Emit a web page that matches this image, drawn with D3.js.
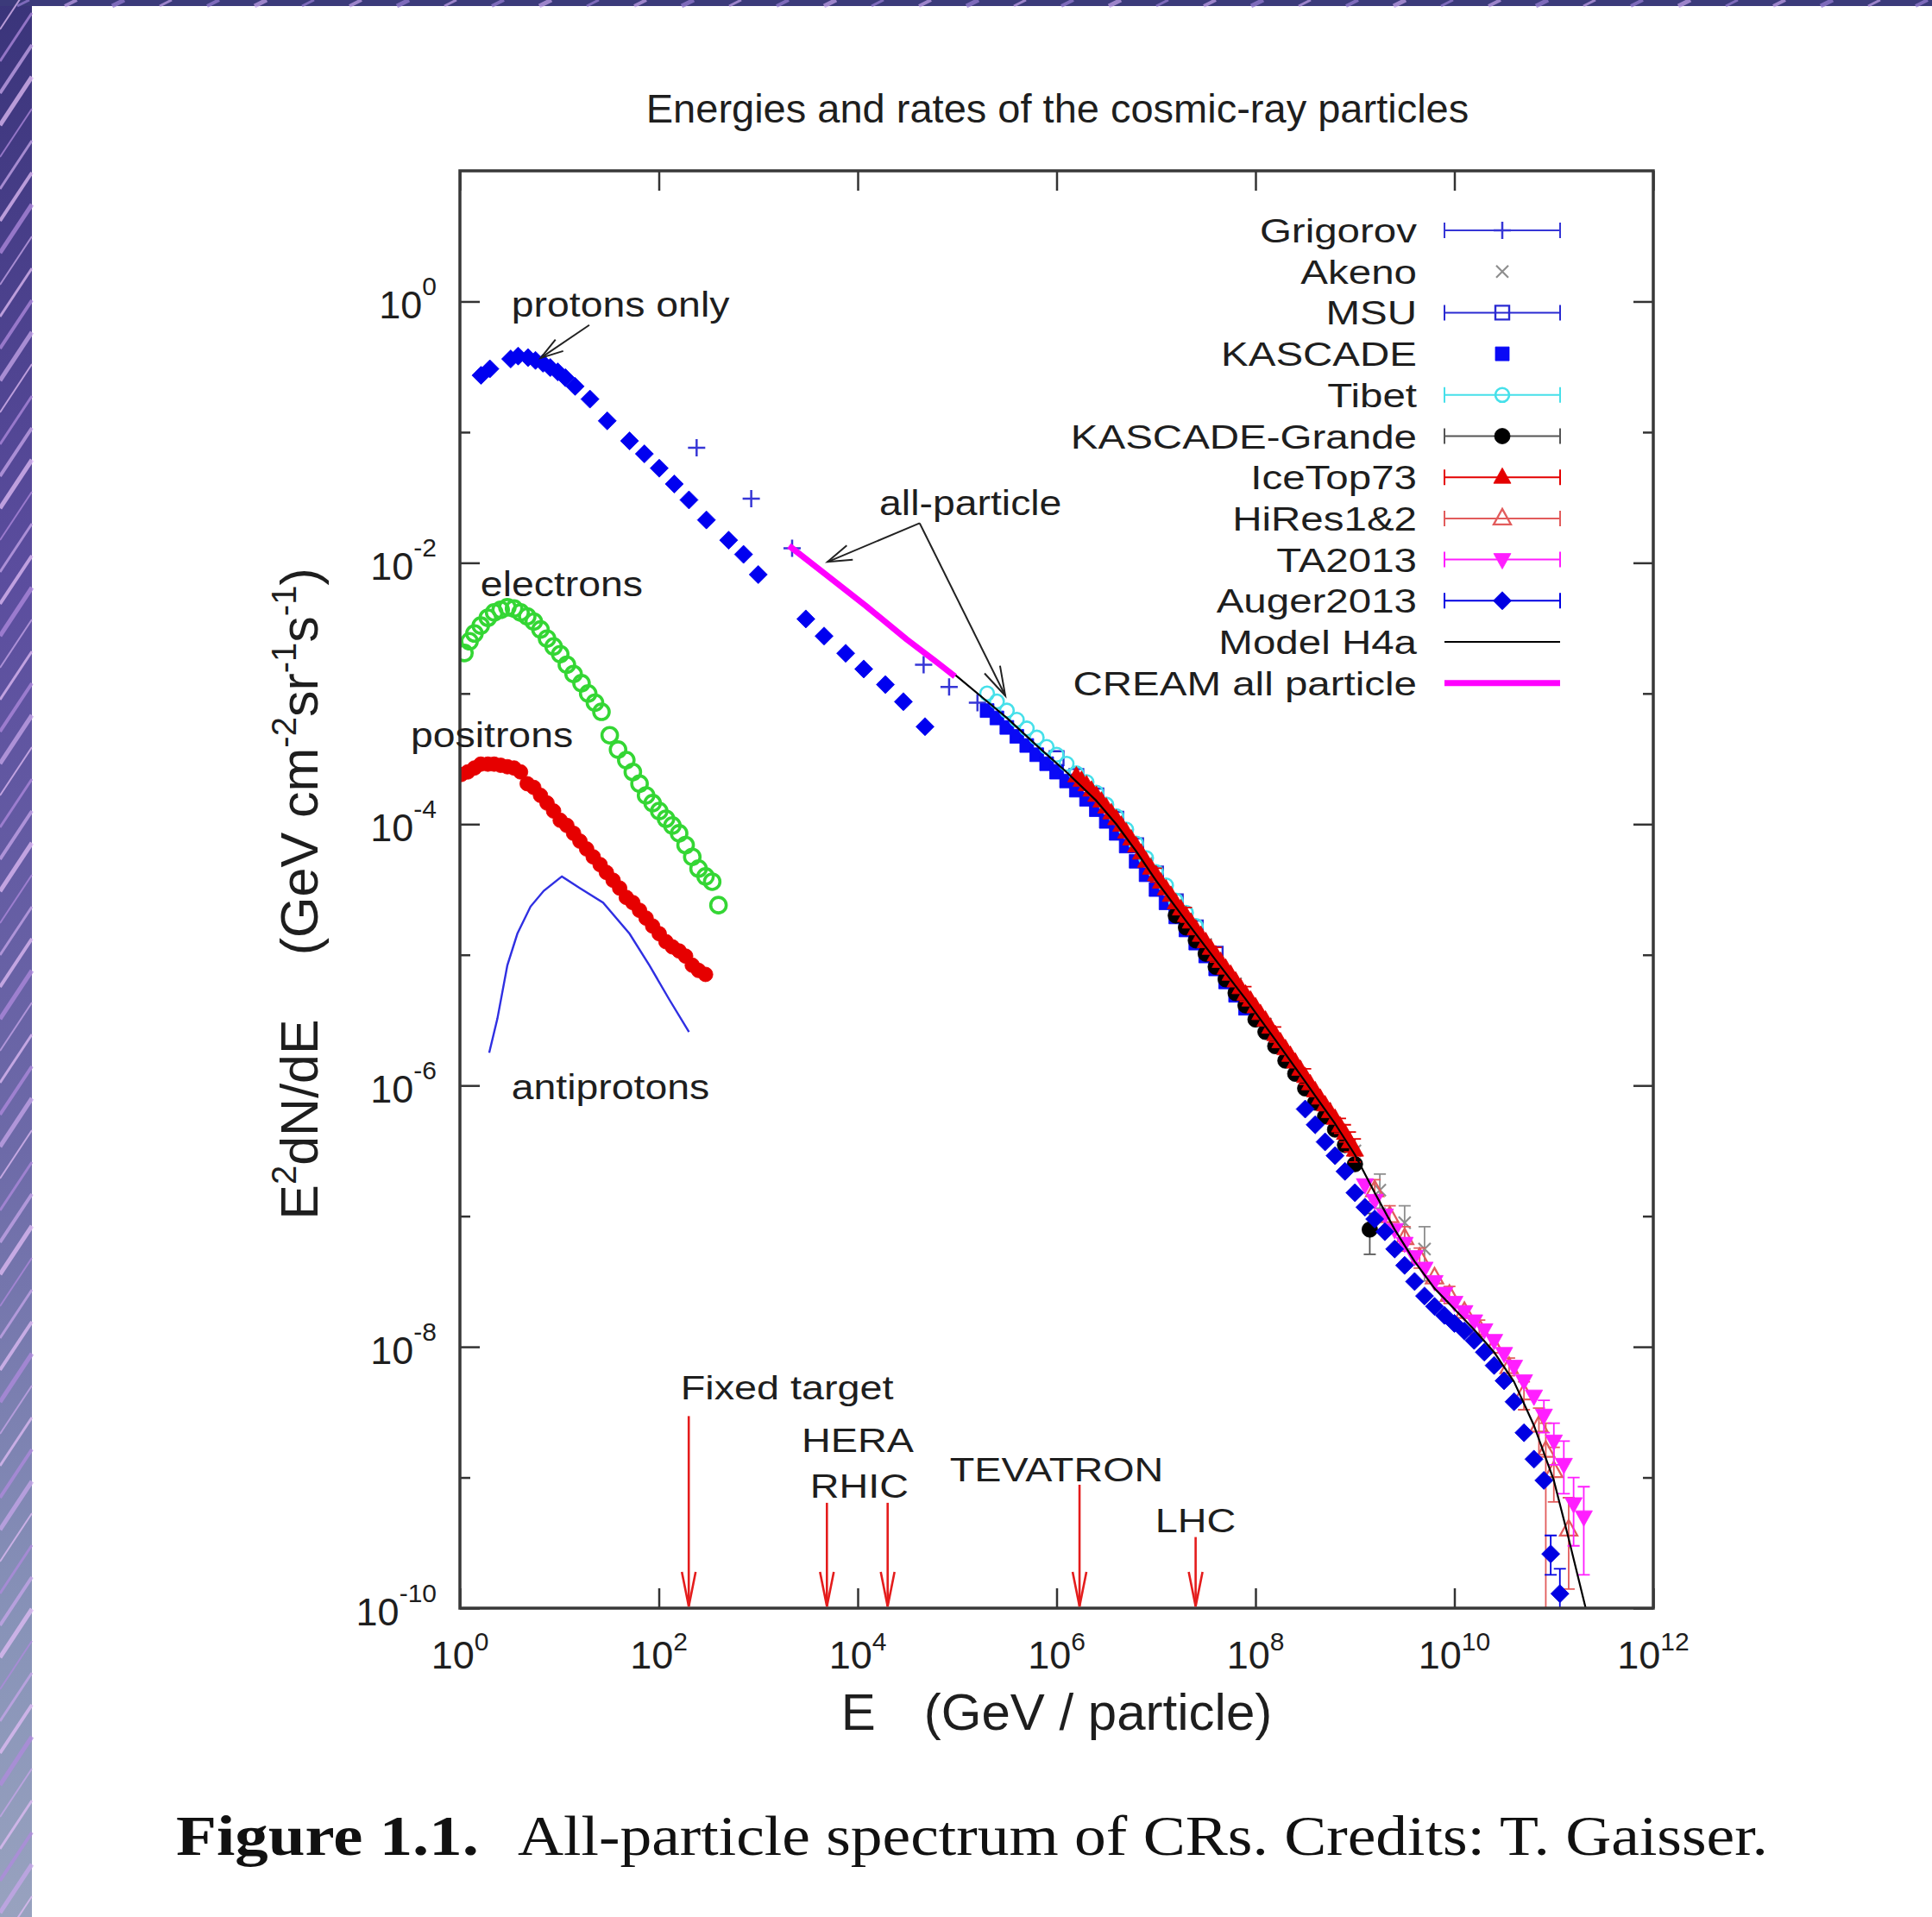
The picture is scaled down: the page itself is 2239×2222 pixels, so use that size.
<!DOCTYPE html>
<html>
<head>
<meta charset="utf-8">
<script src="https://cdn.jsdelivr.net/npm/d3@7"></script>
<style>
  html, body { margin: 0; padding: 0; background: #ffffff; }
  svg { display: block; }
</style>
</head>
<body>
<svg id="chart" width="2239" height="2222"></svg>
<script>
// ---------------------------------------------------------------
// Data: each point is [E (GeV), E^2 dN/dE (GeV cm^-2 sr^-1 s^-1)]
// optional 3rd/4th entries are the lower/upper ends of an error bar
// ---------------------------------------------------------------
const protons = [[1.63,0.272],[2.0,0.305],[3.24,0.363],[3.85,0.382],[4.84,0.372],[5.75,0.354],
  [6.84,0.337],[8.11,0.312],[9.64,0.289],[11.5,0.261],[14.4,0.224],[20.3,0.179],[30.3,0.122],
  [50.8,0.0857],[71.6,0.0682],[101,0.0530],[143,0.0401],[201,0.0303],[301,0.0213],[504,0.0149],
  [711,0.0116],[1000,0.00813],[3010,0.00372],[4590,0.00275],[7570,0.00203],[1.15e4,0.00154],
  [1.90e4,0.00117],[2.88e4,8.65e-4],[4.75e4,5.57e-4]];

const electrons = [[1.11,2.04e-3],[1.25,2.51e-3],[1.40,2.88e-3],[1.62,3.31e-3],[1.91,3.80e-3],
  [2.21,4.17e-3],[2.57,4.37e-3],[3.00,4.57e-3],[3.50,4.47e-3],[4.07,4.17e-3],[4.75,3.89e-3],
  [5.53,3.55e-3],[6.46,3.09e-3],[7.52,2.63e-3],[8.75,2.29e-3],[10.2,2.00e-3],[11.9,1.66e-3],
  [13.9,1.41e-3],[16.7,1.20e-3],[19.5,1.00e-3],[22.8,8.51e-4],[26.5,7.24e-4],[32.1,4.79e-4],
  [38.9,3.72e-4],[47.1,3.09e-4],[54.8,2.51e-4],[64.0,2.04e-4],[74.5,1.66e-4],[86.7,1.45e-4],
  [101,1.26e-4],[118,1.10e-4],[137,9.77e-5],[160,8.51e-5],[186,6.92e-5],[217,5.62e-5],
  [251,4.57e-5],[295,3.98e-5],[344,3.63e-5],[398,2.40e-5]];

const positrons = [[1.03,2.40e-4],[1.20,2.51e-4],[1.40,2.69e-4],[1.62,2.88e-4],[1.91,2.88e-4],
  [2.21,2.88e-4],[2.57,2.82e-4],[3.00,2.75e-4],[3.50,2.69e-4],[4.07,2.51e-4],[4.75,2.04e-4],
  [5.53,1.91e-4],[6.46,1.66e-4],[7.52,1.45e-4],[8.75,1.26e-4],[10.2,1.07e-4],[11.9,9.77e-5],
  [13.9,8.51e-5],[16.1,7.41e-5],[18.8,6.46e-5],[21.9,5.62e-5],[25.7,4.90e-5],[29.7,4.27e-5],
  [34.7,3.72e-5],[40.4,3.24e-5],[47.1,2.75e-5],[54.8,2.51e-5],[64.0,2.19e-5],[74.5,1.91e-5],
  [86.7,1.66e-5],[101,1.45e-5],[118,1.26e-5],[137,1.15e-5],[160,1.07e-5],[186,9.77e-6],
  [217,8.32e-6],[251,7.59e-6],[295,7.08e-6]];

const antiprotons = [[1.97,1.78e-6],[2.38,3.24e-6],[3.00,8.32e-6],[3.78,1.45e-5],[5.13,2.34e-5],
  [6.97,3.09e-5],[10.6,3.98e-5],[16.1,3.24e-5],[27.5,2.51e-5],[50.8,1.45e-5],[80.4,8.32e-6],
  [127,4.57e-6],[201,2.57e-6]];

const grigorov = [[240,0.076],[850,0.031],[2190,0.0129],[4.6e4,1.66e-3],[8.3e4,1.12e-3],[1.6e5,8.5e-4]];

const akeno = [[3.98e6,1.0e-4],[7.94e6,5.0e-5],[1.58e7,2.4e-5],[3.16e7,1.2e-5],[6.31e7,6.0e-6],
  [1.26e8,2.95e-6],[2.51e8,1.38e-6],[5.01e8,6.6e-7],[1.0e9,3.16e-7],[1.78e9,1.58e-7,1.15e-7,2.1e-7],
  [3.16e9,8.9e-8,5.6e-8,1.2e-7],[5.01e9,5.6e-8,3.2e-8,8.3e-8]];

const msu = [[1.0e6,3.2e-4],[1.58e6,2.34e-4],[2.51e6,1.66e-4],[3.98e6,1.1e-4],[6.31e6,6.9e-5],
  [1.0e7,4.2e-5],[1.58e7,2.57e-5],[2.51e7,1.62e-5],[3.98e7,1.02e-5]];

const kascade = [[2.0e5,7.4e-4],[2.51e5,6.5e-4],[3.16e5,5.5e-4],[3.98e5,4.7e-4],[5.01e5,4.0e-4],
  [6.31e5,3.4e-4],[7.94e5,2.9e-4],[1.0e6,2.5e-4],[1.26e6,2.14e-4],[1.58e6,1.82e-4],[2.0e6,1.55e-4],
  [2.51e6,1.29e-4],[3.16e6,1.05e-4],[3.98e6,8.5e-5],[5.01e6,6.8e-5],[6.31e6,5.2e-5],[7.94e6,4.1e-5],
  [1.0e7,3.16e-5],[1.26e7,2.5e-5],[1.58e7,1.95e-5],[2.0e7,1.55e-5],[2.51e7,1.23e-5],[3.16e7,9.8e-6],
  [3.98e7,7.8e-6],[5.01e7,6.2e-6],[6.31e7,4.9e-6],[7.94e7,3.9e-6]];

const tibet = [[2.0e5,1.0e-3],[2.51e5,8.7e-4],[3.16e5,7.4e-4],[3.98e5,6.3e-4],[5.01e5,5.4e-4],
  [6.31e5,4.6e-4],[7.94e5,3.9e-4],[1.0e6,3.4e-4],[1.26e6,2.9e-4],[1.58e6,2.45e-4],[2.0e6,2.1e-4],
  [2.51e6,1.74e-4],[3.16e6,1.41e-4],[3.98e6,1.15e-4],[5.01e6,9.1e-5],[6.31e6,7.1e-5],[7.94e6,5.5e-5],
  [1.0e7,4.3e-5],[1.26e7,3.4e-5],[1.58e7,2.6e-5],[2.0e7,2.1e-5],[2.51e7,1.66e-5]];

const kascadeGrande = [[1.58e7,2.0e-5],[2.0e7,1.62e-5],[2.51e7,1.29e-5],[3.16e7,1.02e-5],[3.98e7,8.1e-6],
  [5.01e7,6.5e-6],[6.31e7,5.1e-6],[7.94e7,4.1e-6],[1.0e8,3.2e-6],[1.26e8,2.57e-6],[1.58e8,2.0e-6],
  [2.0e8,1.55e-6],[2.51e8,1.23e-6],[3.16e8,9.5e-7],[3.98e8,7.4e-7],[5.01e8,5.8e-7],[6.31e8,4.6e-7],
  [7.94e8,3.5e-7],[1.0e9,2.5e-7],[1.41e9,7.9e-8,5.1e-8,1.05e-7]];

const iceTop73 = [[1.58e6,2.34e-4],[1.78e6,2.16e-4],[2.0e6,2.0e-4],[2.24e6,1.82e-4],[2.51e6,1.66e-4],
  [2.82e6,1.50e-4],[3.16e6,1.35e-4],[3.55e6,1.22e-4],[3.98e6,1.10e-4],[4.47e6,9.8e-5],[5.01e6,8.7e-5],
  [5.62e6,7.7e-5],[6.31e6,6.8e-5],[7.08e6,6.0e-5],[7.94e6,5.2e-5],[8.91e6,4.6e-5],[1.0e7,4.1e-5,3.6e-5,4.6e-5],
  [1.12e7,3.6e-5],[1.26e7,3.2e-5],[1.41e7,2.85e-5],[1.58e7,2.5e-5],[1.78e7,2.24e-5],[2.0e7,2.0e-5,1.78e-5,2.3e-5],
  [2.24e7,1.78e-5],[2.51e7,1.58e-5],[2.82e7,1.41e-5],[3.16e7,1.26e-5],[3.55e7,1.12e-5],[3.98e7,1.0e-5,8.8e-6,1.14e-5],
  [4.47e7,8.9e-6],[5.01e7,7.9e-6],[5.62e7,7.1e-6],[6.31e7,6.3e-6],[7.08e7,5.6e-6],[7.94e7,5.0e-6,4.4e-6,5.7e-6],
  [8.91e7,4.5e-6],[1.0e8,4.0e-6],[1.12e8,3.55e-6],[1.26e8,3.16e-6],[1.41e8,2.79e-6],[1.58e8,2.45e-6,2.15e-6,2.8e-6],
  [1.78e8,2.16e-6],[2.0e8,1.91e-6],[2.24e8,1.70e-6],[2.51e8,1.51e-6],[2.82e8,1.33e-6],[3.16e8,1.17e-6,1.02e-6,1.34e-6],
  [3.55e8,1.03e-6],[3.98e8,9.1e-7],[4.47e8,8.0e-7],[5.01e8,7.1e-7],[5.62e8,6.3e-7],[6.31e8,5.6e-7],
  [7.08e8,4.9e-7,4.3e-7,5.6e-7],[7.94e8,4.3e-7,3.7e-7,5.0e-7],[8.91e8,3.7e-7,3.1e-7,4.4e-7],
  [1.0e9,3.2e-7,2.6e-7,3.9e-7]];

const hiRes = [[1.58e9,1.58e-7,1.3e-7,1.9e-7],[2.24e9,1.0e-7,8.3e-8,1.2e-7],[3.16e9,6.8e-8,5.4e-8,8.3e-8],
  [4.47e9,4.8e-8,4.0e-8,5.7e-8],[6.31e9,3.4e-8],[8.91e9,2.5e-8,2.15e-8,2.9e-8],[1.26e10,1.85e-8],
  [1.78e10,1.38e-8,1.2e-8,1.6e-8],[2.51e10,1.0e-8],[3.55e10,7.0e-9,6.0e-9,8.2e-9],
  [5.01e10,4.4e-9,3.3e-9,5.4e-9],[7.08e10,2.5e-9,1.5e-9,3.4e-9],[8.3e10,1.6e-9,1.0e-10,2.6e-9],
  [1.0e11,1.12e-9,6.5e-10,1.7e-9],[1.41e11,4.0e-10,1.4e-10,7.0e-10]];

const ta2013 = [[1.26e9,1.74e-7],[1.58e9,1.32e-7],[2.0e9,1.02e-7],[2.51e9,7.9e-8],[3.16e9,6.2e-8],
  [3.98e9,4.9e-8],[5.01e9,4.0e-8],[6.31e9,3.16e-8],[7.94e9,2.57e-8],[1.0e10,2.19e-8],[1.26e10,1.86e-8],
  [1.58e10,1.58e-8],[2.0e10,1.35e-8],[2.51e10,1.12e-8],[3.16e10,8.9e-9],[3.98e10,7.1e-9],
  [5.01e10,5.5e-9],[6.31e10,4.2e-9],[7.94e10,3.0e-9,2.2e-9,3.9e-9],[1.0e11,1.9e-9,1.25e-9,2.6e-9],
  [1.26e11,1.26e-9,7.5e-10,1.9e-9],[1.58e11,6.3e-10,3.0e-10,1.0e-9],[2.0e11,5.0e-10,1.8e-10,8.5e-10]];

const auger2013 = [[3.16e8,6.6e-7],[3.98e8,5.0e-7],[5.01e8,3.7e-7],[6.31e8,2.9e-7],[7.94e8,2.2e-7],
  [1.0e9,1.51e-7],[1.26e9,1.17e-7],[1.58e9,9.5e-8],[2.0e9,7.6e-8],[2.51e9,5.6e-8],[3.16e9,4.2e-8],
  [3.98e9,3.16e-8],[5.01e9,2.45e-8],[6.31e9,2.04e-8],[7.94e9,1.74e-8],[1.0e10,1.51e-8],[1.26e10,1.32e-8],
  [1.58e10,1.12e-8],[2.0e10,9.1e-9],[2.51e10,7.2e-9],[3.16e10,5.5e-9],[3.98e10,3.8e-9],[5.01e10,2.2e-9],
  [6.31e10,1.38e-9],[7.94e10,9.5e-10],[9.3e10,2.6e-10,1.8e-10,3.6e-10],[1.15e11,1.29e-10,1.0e-10,2.0e-10]];

const modelH4a = [[3.16e4,2.6e-3],[1.0e5,1.35e-3],[2.0e5,8.7e-4],[3.16e5,6.5e-4],[6.31e5,4.0e-4],
  [1.26e6,2.5e-4],[2.51e6,1.51e-4],[3.98e6,1.0e-4],[6.31e6,6.2e-5],[1.0e7,3.7e-5],[2.0e7,1.82e-5],
  [3.98e7,9.1e-6],[7.94e7,4.6e-6],[1.58e8,2.24e-6],[3.16e8,1.07e-6],[6.31e8,5.1e-7],[1.0e9,2.95e-7],
  [1.58e9,1.51e-7],[2.51e9,7.9e-8],[3.98e9,4.5e-8],[6.31e9,2.8e-8],[1.0e10,1.95e-8],[1.58e10,1.35e-8],
  [2.51e10,9.1e-9],[3.98e10,5.4e-9],[6.31e10,2.5e-9],[1.0e11,9.5e-10],[1.41e11,3.4e-10],[2.09e11,1.0e-10]];

const creamAll = [[2040,0.0135],[5010,0.0079],[1.2e4,0.0047],[3.1e4,0.0026],[6.6e4,0.00168],[9.5e4,0.00135]];

// accelerator equivalent energies
const accelerators = ["Fixed target", "HERA", "RHIC", "TEVATRON", "LHC"];
const acceleratorE = [2.0e2, 4.9e3, 2.0e4, 1.7e6, 2.5e7];

// tick labels (powers of ten)
const xTickExp = [0, 2, 4, 6, 8, 10, 12];
const yTickExp = [0, -2, -4, -6, -8, -10];
const yMinorExp = [-1, -3, -5, -7, -9];

// ---------------------------------------------------------------
const W = 2239, H = 2222;
const svg = d3.select("#chart");
const defs = svg.append("defs");
const SANS = "'Liberation Sans', Arial, Helvetica, sans-serif";
const SERIF = "'Liberation Serif', 'Times New Roman', serif";
const INK = "#1e1e1e";

// ---- decorative border of the page ----
const grad = defs.append("linearGradient").attr("id", "strip").attr("x1", 0).attr("y1", 0).attr("x2", 0).attr("y2", 1);
[["0%", "#3a347a"], ["30%", "#5b4d9e"], ["60%", "#6d6aa8"], ["85%", "#8893b8"], ["100%", "#98a2bf"]]
  .forEach(([o, c]) => grad.append("stop").attr("offset", o).attr("stop-color", c));
const border = svg.append("g");
border.append("rect").attr("x", 0).attr("y", 0).attr("width", 37).attr("height", H).attr("fill", "url(#strip)");
border.append("rect").attr("x", 0).attr("y", 0).attr("width", W).attr("height", 7).attr("fill", "#3b3a7a");
d3.range(0, 62).forEach(i => {
  const y0 = i * 37;
  border.append("line").attr("x1", 0).attr("y1", y0 + 34).attr("x2", 37).attr("y2", y0 - 22)
    .attr("stroke", i % 3 === 0 ? "#e2bdf6" : (i % 3 === 1 ? "#b08ade" : "#c7a6ea"))
    .attr("stroke-width", 2 + (i % 4)).attr("opacity", 0.75);
});
d3.range(0, 42).forEach(i => {
  const x0 = i * 55 + 20;
  border.append("line").attr("x1", x0).attr("y1", 7).attr("x2", x0 + 14).attr("y2", 0)
    .attr("stroke", i % 2 ? "#c6a4ec" : "#9a7fd6").attr("stroke-width", 3 + (i % 3)).attr("opacity", 0.7);
});

// ---- scales ----
const x = d3.scaleLog().domain([1, 1e12]).range([533, 1916]);
const y = d3.scaleLog().domain([1e-10, 10]).range([1864, 198]);
const [X0, X1] = x.range();
const [Y1, Y0] = y.range();

defs.append("clipPath").attr("id", "plotClip").append("rect")
  .attr("x", X0).attr("y", Y0).attr("width", X1 - X0).attr("height", Y1 - Y0);

// ---- title ----
svg.append("text").attr("x", (X0 + X1) / 2 + 1).attr("y", 142).attr("text-anchor", "middle")
  .attr("font-family", SANS).attr("font-size", 47).attr("fill", INK)
  .text("Energies and rates of the cosmic-ray particles");

// ---- axes (ticks drawn inward, mirrored on all sides) ----
const xMajor = xTickExp.map(e => Math.pow(10, e));
const yMajor = yTickExp.map(e => Math.pow(10, e));
const yMinor = yMinorExp.map(e => Math.pow(10, e));
function styleAxis(g) {
  g.select(".domain").remove();
  g.selectAll("line").attr("stroke", "#333").attr("stroke-width", 2.5);
}
svg.append("g").attr("transform", `translate(0,${Y1})`)
  .call(d3.axisBottom(x).tickValues(xMajor).tickSize(-23).tickFormat("")).call(styleAxis);
svg.append("g").attr("transform", `translate(0,${Y0})`)
  .call(d3.axisTop(x).tickValues(xMajor).tickSize(-23).tickFormat("")).call(styleAxis);
svg.append("g").attr("transform", `translate(${X0},0)`)
  .call(d3.axisLeft(y).tickValues(yMajor).tickSize(-23).tickFormat("")).call(styleAxis);
svg.append("g").attr("transform", `translate(${X1},0)`)
  .call(d3.axisRight(y).tickValues(yMajor).tickSize(-23).tickFormat("")).call(styleAxis);
svg.append("g").attr("transform", `translate(${X0},0)`)
  .call(d3.axisLeft(y).tickValues(yMinor).tickSize(-12).tickFormat("")).call(styleAxis);
svg.append("g").attr("transform", `translate(${X1},0)`)
  .call(d3.axisRight(y).tickValues(yMinor).tickSize(-12).tickFormat("")).call(styleAxis);

// tick labels 10^n
xTickExp.forEach(e => {
  const t = svg.append("text").attr("x", x(Math.pow(10, e))).attr("y", 1934).attr("text-anchor", "middle")
    .attr("font-family", SANS).attr("font-size", 45).attr("fill", INK);
  t.append("tspan").text("10");
  t.append("tspan").attr("dy", -21).attr("font-size", 30).text(String(e));
});
yTickExp.forEach(e => {
  const t = svg.append("text").attr("x", 506).attr("y", y(Math.pow(10, e)) + 20).attr("text-anchor", "end")
    .attr("font-family", SANS).attr("font-size", 45).attr("fill", INK);
  t.append("tspan").text("10");
  t.append("tspan").attr("dy", -27).attr("font-size", 30).text(String(e));
});

// axis titles
const xt = svg.append("text").attr("x", (X0 + X1) / 2).attr("y", 2005).attr("text-anchor", "middle")
  .attr("font-family", SANS).attr("font-size", 60).attr("fill", INK);
xt.append("tspan").text("E");
xt.append("tspan").attr("dx", 56).text("(GeV / particle)");

const yt = svg.append("text").attr("transform", `translate(368,${(Y0 + Y1) / 2 + 5}) rotate(-90)`)
  .attr("text-anchor", "middle").attr("font-family", SANS).attr("font-size", 61).attr("fill", INK);
yt.append("tspan").text("E");
yt.append("tspan").attr("dy", -25).attr("font-size", 40).text("2");
yt.append("tspan").attr("dy", 25).text("dN/dE");
yt.append("tspan").attr("dx", 74).text("(GeV cm");
yt.append("tspan").attr("dy", -25).attr("font-size", 40).text("-2");
yt.append("tspan").attr("dy", 25).text("sr");
yt.append("tspan").attr("dy", -25).attr("font-size", 40).text("-1");
yt.append("tspan").attr("dy", 25).text("s");
yt.append("tspan").attr("dy", -25).attr("font-size", 40).text("-1");
yt.append("tspan").attr("dy", 25).text(")");

// ---- marker shapes ----
function symPath(type, a) {
  switch (type) {
    case "plus": return `M${-a},0H${a}M0,${-a}V${a}`;
    case "times": return `M${-a},${-a}L${a},${a}M${-a},${a}L${a},${-a}`;
    case "square": case "squareOpen": return `M${-a},${-a}H${a}V${a}H${-a}Z`;
    case "circle": case "circleOpen": return `M${a},0A${a},${a} 0 1,1 ${-a},0A${a},${a} 0 1,1 ${a},0Z`;
    case "triangle": case "triangleOpen": return `M0,${-1.1 * a}L${a},${0.7 * a}L${-a},${0.7 * a}Z`;
    case "triangleDown": return `M0,${1.1 * a}L${a},${-0.7 * a}L${-a},${-0.7 * a}Z`;
    case "diamond": return `M0,${-a}L${a},0L0,${a}L${-a},0Z`;
  }
}
const symStyle = {
  plus:         { a: 10,   fill: false, sw: 2.5 },
  times:        { a: 7,    fill: false, sw: 2.2 },
  square:       { a: 8,    fill: true },
  squareOpen:   { a: 8,    fill: false, sw: 2.4 },
  circle:       { a: 9,    fill: true },
  circleOpen:   { a: 8,    fill: false, sw: 2.6 },
  triangle:     { a: 10,   fill: true },
  triangleOpen: { a: 10,   fill: false, sw: 2.3 },
  triangleDown: { a: 10,   fill: true },
  diamond:      { a: 10.5, fill: true }
};
function marker(g, type, cx, cy, color, a, sw) {
  const st = symStyle[type];
  const size = a || st.a;
  const p = g.append("path").attr("d", symPath(type, size)).attr("transform", `translate(${cx},${cy})`);
  if (st.fill) p.attr("fill", color).attr("stroke", color).attr("stroke-width", 0.8);
  else p.attr("fill", "none").attr("stroke", color).attr("stroke-width", sw || st.sw);
}

// ---- series table ----
const series = [
  { name: "Grigorov",           data: grigorov,      sym: "plus",         color: "#3636d6", keyBar: true },
  { name: "Akeno",              data: akeno,         sym: "times",        color: "#8e8e8e", keyBar: false },
  { name: "MSU",                data: msu,           sym: "squareOpen",   color: "#2a2ad2", keyBar: true },
  { name: "KASCADE",            data: kascade,       sym: "square",       color: "#0909f6", keyBar: false },
  { name: "Tibet",              data: tibet,         sym: "circleOpen",   color: "#46e0ea", keyBar: true },
  { name: "KASCADE-Grande",     data: kascadeGrande, sym: "circle",       color: "#000000", keyBar: true, barColor: "#555555" },
  { name: "IceTop73",           data: iceTop73,      sym: "triangle",     color: "#e40000", keyBar: true },
  { name: "HiRes1&2",           data: hiRes,         sym: "triangleOpen", color: "#e25c5c", keyBar: true },
  { name: "TA2013",             data: ta2013,        sym: "triangleDown", color: "#ff1eff", keyBar: true },
  { name: "Auger2013",          data: auger2013,     sym: "diamond",      color: "#0000e2", keyBar: true },
  { name: "Model H4a",          data: modelH4a,      line: true,          color: "#000000", width: 2.2 },
  { name: "CREAM all particle", data: creamAll,      line: true,          color: "#ff00ff", width: 7 }
];

// ---- plot area ----
const plot = svg.append("g").attr("clip-path", "url(#plotClip)");
const line = d3.line().x(d => x(d[0])).y(d => y(d[1]));

// protons only
const gp = plot.append("g");
protons.forEach(d => marker(gp, "diamond", x(d[0]), y(d[1]), "#0000f0", 10.5));
// electrons
const ge = plot.append("g");
electrons.forEach(d => marker(ge, "circleOpen", x(d[0]), y(d[1]), "#34d634", 9, 3.6));
// positrons
const gq = plot.append("g");
positrons.forEach(d => marker(gq, "circle", x(d[0]), y(d[1]), "#e60000", 8.5));
// antiprotons
plot.append("path").datum(antiprotons).attr("d", line).attr("fill", "none")
  .attr("stroke", "#2f2fe2").attr("stroke-width", 2.4);

// all-particle measurements
series.forEach(s => {
  const g = plot.append("g");
  if (s.line) {
    g.append("path").datum(s.data).attr("d", line).attr("fill", "none")
      .attr("stroke", s.color).attr("stroke-width", s.width).attr("stroke-linejoin", "round");
    return;
  }
  s.data.forEach(d => {
    if (d.length > 2) {
      const cx = x(d[0]);
      const bc = s.barColor || s.color;
      g.append("path").attr("d", `M${cx},${y(d[2])}V${y(d[3])}M${cx - 7},${y(d[2])}H${cx + 7}M${cx - 7},${y(d[3])}H${cx + 7}`)
        .attr("fill", "none").attr("stroke", bc).attr("stroke-width", 1.8);
    }
    marker(g, s.sym, x(d[0]), y(d[1]), s.color);
  });
});

// ---- frame ----
svg.append("rect").attr("x", X0).attr("y", Y0).attr("width", X1 - X0).attr("height", Y1 - Y0)
  .attr("fill", "none").attr("stroke", "#383838").attr("stroke-width", 3.5);

// ---- legend ----
const legend = svg.append("g");
const keyRight = 1642, keyTop = 267, keyRow = 47.7, keyX0 = 1674, keyX1 = 1808, keyMid = 1741;
series.forEach((s, i) => {
  const ry = keyTop + i * keyRow;
  legend.append("text").attr("transform", `translate(${keyRight},${ry + 14}) scale(1.25,1)`)
    .attr("text-anchor", "end").attr("font-family", SANS).attr("font-size", 38).attr("fill", INK)
    .text(s.name);
  if (s.line) {
    legend.append("line").attr("x1", keyX0).attr("x2", keyX1).attr("y1", ry).attr("y2", ry)
      .attr("stroke", s.color).attr("stroke-width", s.width);
    return;
  }
  if (s.keyBar) {
    legend.append("path").attr("d", `M${keyX0},${ry}H${keyX1}M${keyX0},${ry - 9}V${ry + 9}M${keyX1},${ry - 9}V${ry + 9}`)
      .attr("fill", "none").attr("stroke", s.barColor || s.color).attr("stroke-width", 2);
  }
  marker(legend, s.sym, keyMid, ry, s.color);
});

// ---- annotations ----
function arrow(g, x1, y1, x2, y2, color, w, len, hw) {
  const ang = Math.atan2(y2 - y1, x2 - x1);
  const c = Math.cos(ang), sn = Math.sin(ang);
  g.append("line").attr("x1", x1).attr("y1", y1).attr("x2", x2).attr("y2", y2)
    .attr("stroke", color).attr("stroke-width", w);
  const bx = x2 - len * c, by = y2 - len * sn;
  g.append("path").attr("d", `M${bx + hw * sn},${by - hw * c}L${x2},${y2}L${bx - hw * sn},${by + hw * c}`)
    .attr("fill", "none").attr("stroke", color).attr("stroke-width", w).attr("stroke-linejoin", "miter");
}
function label(g, txt, px, py, size, sx, anchor) {
  g.append("text").attr("transform", `translate(${px},${py}) scale(${sx},1)`)
    .attr("text-anchor", anchor || "start").attr("font-family", SANS).attr("font-size", size).attr("fill", INK)
    .text(txt);
}
const ann = svg.append("g");

// particle labels (positions in data coordinates)
label(ann, "protons only", x(3.3), y(0.77), 40, 1.16);
label(ann, "electrons", x(1.61), y(5.6e-3), 40, 1.16);
label(ann, "positrons", x(0.32), y(3.9e-4), 40, 1.16);
label(ann, "antiprotons", x(3.3), y(7.9e-7), 40, 1.16);
label(ann, "all-particle", x(1.65e4), y(0.0231), 40, 1.16);

arrow(ann, x(20), y(0.66), x(6.5), y(0.37), "#222", 2, 26, 8);
arrow(ann, x(4.2e4), y(0.0201), x(4970), y(0.01016), "#222", 2, 28, 9);
arrow(ann, x(4.2e4), y(0.0201), x(3.05e5), y(9.6e-4), "#222", 2, 34, 10);

// accelerator energies
const accTop = [2.95e-9, 6.4e-10, 6.4e-10, 8.8e-10, 3.5e-10];
const accLabel = [[1950, 3.95e-9], [1.0e4, 1.57e-9], [1.04e4, 7.0e-10], [1.0e6, 9.3e-10], [2.5e7, 3.8e-10]];
accelerators.forEach((name, i) => {
  const ax = x(acceleratorE[i]);
  arrow(ann, ax, y(accTop[i]), ax, Y1 - 2, "#e41c1c", 2.6, 40, 8);
  label(ann, name, x(accLabel[i][0]), y(accLabel[i][1]), 38, 1.23, "middle");
});

// ---- caption ----
svg.append("text").attr("x", 204).attr("y", 2150).attr("font-family", SERIF).attr("font-weight", "bold")
  .attr("font-size", 66).attr("fill", "#111").attr("textLength", 351).attr("lengthAdjust", "spacingAndGlyphs")
  .text("Figure 1.1.");
svg.append("text").attr("x", 600).attr("y", 2150).attr("font-family", SERIF)
  .attr("font-size", 66).attr("fill", "#111").attr("textLength", 1449).attr("lengthAdjust", "spacingAndGlyphs")
  .text("All-particle spectrum of CRs. Credits: T. Gaisser.");
</script>
</body>
</html>
